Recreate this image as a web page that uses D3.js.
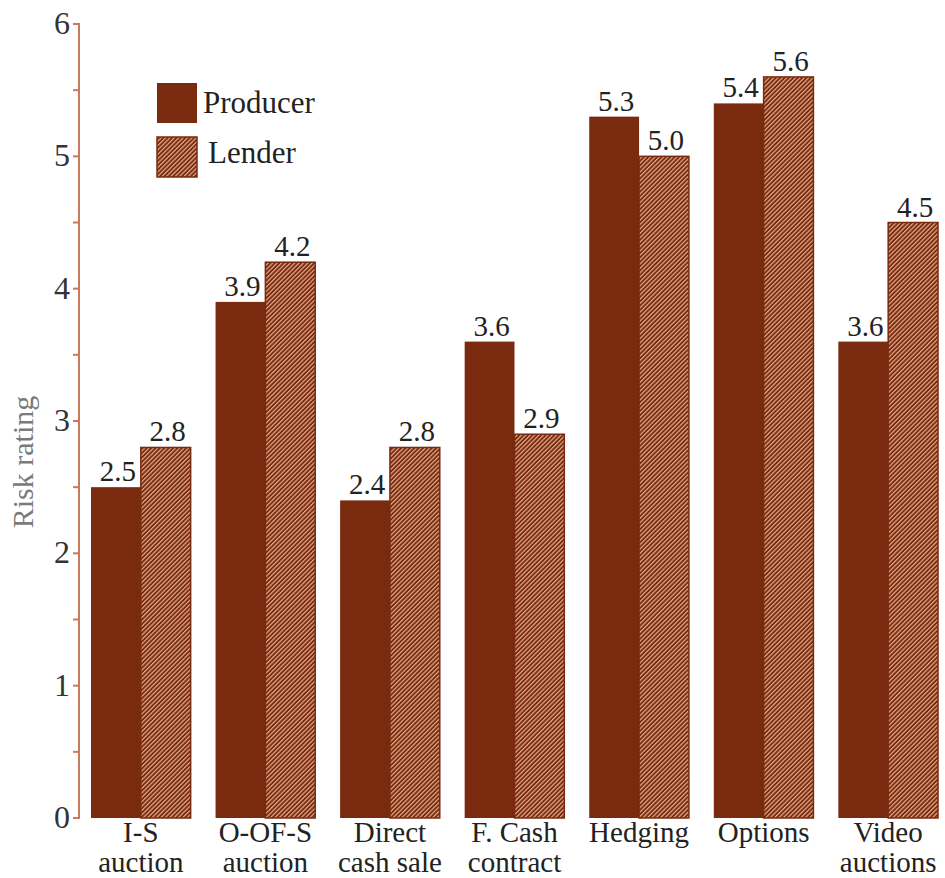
<!DOCTYPE html>
<html><head><meta charset="utf-8">
<script src="https://cdn.jsdelivr.net/npm/d3@7"></script>
<style>body{margin:0;background:#fff}svg{display:block}</style>
</head><body>
<svg id="c" width="945" height="878"></svg>
<script>
const categories = [["I-S","auction"],["O-OF-S","auction"],["Direct","cash sale"],["F. Cash","contract"],["Hedging"],["Options"],["Video","auctions"]];
const seriesNames = ["Producer","Lender"];
const producer = [2.5, 3.9, 2.4, 3.6, 5.3, 5.4, 3.6];
const lender = [2.8, 4.2, 2.8, 2.9, 5.0, 5.6, 4.5];
const yTicks = [0,1,2,3,4,5,6];
const labels = ["2.5","3.9","2.4","3.6","5.3","5.4","3.6"];
const labelsL = ["2.8","4.2","2.8","2.9","5.0","5.6","4.5"];

const FONT = '"Liberation Serif"';
const brown = "#7a2a0e", axisC = "#c87a5a";
const svg = d3.select("#c");
const defs = svg.append("defs");
const P = 3.1;
const pat = defs.append("pattern").attr("id","hatch").attr("patternUnits","userSpaceOnUse")
  .attr("width",P).attr("height",P).attr("patternTransform","rotate(45)");
pat.append("rect").attr("width",P).attr("height",P).attr("fill",brown);
pat.append("rect").attr("x",0).attr("width",1.2).attr("height",P).attr("fill","#e2ac8c");

const y = d3.scaleLinear().domain([0,6]).range([818,24]);
const x0 = d3.scaleBand().domain(d3.range(categories.length)).range([91,938]).paddingInner(0.2).paddingOuter(0);
const x1 = d3.scaleBand().domain([0,1]).range([0,x0.bandwidth()]);

function txt(sel){ return sel.style("font-family", FONT); }

// axis
const ax = svg.append("g").attr("transform","translate(79,0)");
ax.append("line").attr("y1",y(0)+1).attr("y2",y(6)-1).attr("stroke",axisC).attr("stroke-width",2);
const minor = d3.range(0,6.01,0.5);
ax.selectAll("line.t").data(minor).join("line").attr("class","t")
  .attr("x1",-6).attr("x2",0).attr("y1",d=>y(d)).attr("y2",d=>y(d)).attr("stroke",axisC).attr("stroke-width",2);
txt(ax.selectAll("text").data(yTicks).join("text")).attr("x",-9).attr("y",d=>y(d)+10)
  .attr("text-anchor","end").attr("font-size",32).attr("fill","#333").text(d=>d);

txt(svg.append("text")).attr("transform","translate(33,462) rotate(-90)").attr("text-anchor","middle")
  .attr("font-size",30).attr("fill","#7a7a7a").text("Risk rating");

const data = [producer, lender];
const lab = [labels, labelsL];
const g = svg.append("g");
categories.forEach((c,i)=>{
  [0,1].forEach(s=>{
    const v = data[s][i];
    const bx = x0(i)+x1(s);
    g.append("rect").attr("x",bx).attr("y",y(v)).attr("width",x1.bandwidth()).attr("height",y(0)-y(v))
      .attr("fill", s===0?brown:"url(#hatch)").attr("stroke", s===1?brown:"none").attr("stroke-width",1.5);
    txt(g.append("text")).attr("x",bx+x1.bandwidth()/2+2).attr("y",y(v)-6).attr("text-anchor","middle")
      .attr("font-size",29).attr("fill","#222").text(lab[s][i]);
  });
  c.forEach((l,k)=>{
    txt(g.append("text")).attr("x",x0(i)+x0.bandwidth()/2).attr("y",842+k*30).attr("text-anchor","middle")
      .attr("font-size",29).attr("fill","#222").text(l);
  });
});

// legend
const lg = svg.append("g");
seriesNames.forEach((n,i)=>{
  lg.append("rect").attr("x",157).attr("y",83+i*54).attr("width",40).attr("height",40)
    .attr("fill", i===0?brown:"url(#hatch)").attr("stroke", i===1?brown:"none").attr("stroke-width",1.5);
  txt(lg.append("text")).attr("x",i===0?203:208).attr("y",i===0?113:163).attr("font-size",31).attr("fill","#222").text(n);
});
</script>
</body></html>
